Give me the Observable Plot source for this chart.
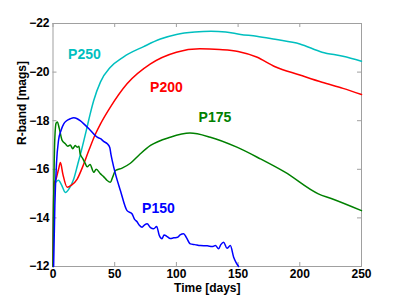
<!DOCTYPE html>
<html><head><meta charset="utf-8">
<script src="https://cdn.jsdelivr.net/npm/d3@7"></script>
<script src="https://cdn.jsdelivr.net/npm/@observablehq/plot@0.6"></script>
<style>body{margin:0;background:#fff}</style>
</head><body><div id="chart"></div>
<script>
// ---- data ----
const p250Days = [0, 0.8, 2, 4.5, 7, 10, 13, 16.8, 20, 23, 27, 30, 33, 38.5, 46.5, 57, 73.5, 87, 100, 115, 128, 140, 152, 165, 180, 200, 218, 235, 250];
const p250Mags = [-12, -15.3, -15.45, -15.55, -15.35, -15.05, -15.2, -15.6, -16.2, -16.77, -17.6, -18.25, -18.83, -19.6, -20.2, -20.62, -21.05, -21.36, -21.55, -21.65, -21.68, -21.65, -21.55, -21.48, -21.35, -21.16, -20.82, -20.65, -20.45];

const p200Days = [0, 0.8, 2.5, 4.5, 6, 8, 11.5, 15, 19.6, 24, 29, 34.4, 38.5, 46.5, 60, 79, 100, 119, 135, 150, 165, 180, 200, 218, 235, 250];
const p200Mags = [-12, -15.4, -15.6, -16.0, -16.28, -15.8, -15.26, -15.35, -15.6, -16.1, -16.77, -17.45, -17.87, -18.56, -19.52, -20.34, -20.82, -20.96, -20.93, -20.85, -20.62, -20.22, -19.88, -19.58, -19.33, -19.08];

const p175Days = [0, 0.6, 1.5, 2.5, 3.5, 5, 7.4, 10, 12, 14, 16, 18, 19.6, 21, 22, 24, 26, 27.7, 30, 33, 35, 38.5, 41, 43.9, 46.5, 48.5, 50.6, 56, 62.7, 70, 79, 95, 111, 127.5, 149, 168, 188, 215, 226, 250];
const p175Mags = [-12, -15, -17.3, -17.9, -17.95, -17.7, -17.19, -17.05, -16.95, -17.0, -16.85, -16.98, -16.91, -16.95, -16.64, -16.45, -16.25, -16.1, -16.2, -15.88, -16.0, -15.81, -15.7, -15.54, -15.47, -15.7, -15.95, -16.05, -16.25, -16.6, -16.98, -17.32, -17.49, -17.32, -16.91, -16.43, -15.88, -14.99, -14.79, -14.3];

const p150Days = [0.5, 1.5, 2.8, 4.5, 6.5, 8.7, 11, 14, 16.8, 19.6, 22, 25, 30.4, 35.8, 38.5, 41, 44, 46, 47, 48, 50.6, 54.6, 60, 64, 66, 68, 70, 72.2, 74, 76.3, 79, 81.6, 84, 86, 88.4, 90, 92.5, 95, 97.8, 101, 103, 105.9, 108, 111.3, 115, 119.4, 125, 129, 131.6, 134.2, 136, 138.3, 141, 143.7, 146.4, 148.5, 150.4];
const p150Mags = [-12, -14.5, -16.23, -17.2, -17.6, -17.87, -18.0, -18.08, -18.12, -18.08, -18.0, -17.87, -17.6, -17.32, -17.26, -17.15, -17.05, -16.9, -16.6, -16.36, -15.81, -15.13, -14.3, -14.17, -13.95, -13.85, -13.7, -13.62, -13.7, -13.76, -13.6, -13.55, -13.65, -13.3, -13.14, -13.3, -13.23, -13.15, -13.18, -13.2, -13.3, -13.35, -13.2, -12.93, -12.9, -12.86, -12.85, -12.82, -12.86, -12.73, -12.9, -13.0, -12.75, -12.86, -12.38, -12.15, -12];

const seriesNames = ["P250", "P200", "P175", "P150"];
const labelDays = [25.5, 91.9, 131.2, 85.4];
const labelMags = [-20.71, -19.38, -18.12, -14.37];

const xTicks = [0, 50, 100, 150, 200, 250];
const yTicks = [-12, -14, -16, -18, -20, -22];

// ---- build table ----
const seriesData = [[p250Days, p250Mags], [p200Days, p200Mags], [p175Days, p175Mags], [p150Days, p150Mags]];
const rows = [];
seriesData.forEach(([ds, ms], i) => ds.forEach((d, j) => rows.push({series: seriesNames[i], day: d, mag: ms[j]})));
const labels = seriesNames.map((s, i) => ({series: s, day: labelDays[i], mag: labelMags[i]}));

const colors = {P250: "#00bfbf", P200: "#ff0000", P175: "#008000", P150: "#0000ff"};

const W = 399, H = 299, mL = 52.5, mR = 38, mT = 23, mB = 33;
const plotW = W - mL - mR, plotH = H - mT - mB;
const frameGray = "#a0a0a0";

const chart = Plot.plot({
  width: W, height: H,
  marginLeft: mL, marginRight: mR, marginTop: mT, marginBottom: mB,
  style: {fontFamily: "'Liberation Sans', Arial, sans-serif", fontSize: "12px", fontWeight: "bold", color: "#000", background: "#fff"},
  x: {domain: [0, 250]},
  y: {domain: [-12, -22]},
  marks: [
    Plot.frame({stroke: frameGray}),
    Plot.ruleX(xTicks, {x: d => d, stroke: frameGray, insetTop: plotH - 4}),
    Plot.ruleX(xTicks, {x: d => d, stroke: frameGray, insetBottom: plotH - 4}),
    Plot.ruleY(yTicks, {y: d => d, stroke: frameGray, insetRight: plotW - 4}),
    Plot.ruleY(yTicks, {y: d => d, stroke: frameGray, insetLeft: plotW - 4}),
    Plot.axisX(xTicks, {anchor: "bottom", tickSize: 0, tickPadding: 3, label: null, fontWeight: "bold", fontSize: 12}),
    Plot.axisY(yTicks, {anchor: "left", tickSize: 0, tickPadding: 3.5, label: null, fontWeight: "bold", fontSize: 12}),
    Plot.line(rows, {x: "day", y: "mag", z: "series", stroke: d => colors[d.series], strokeWidth: 1.5, curve: "monotone-x"}),
    Plot.text(labels, {x: "day", y: "mag", text: "series", fill: d => colors[d.series], fontSize: 14, fontWeight: "bold"}),
    Plot.text(["Time [days]"], {frameAnchor: "bottom", dy: 25.5, fontSize: 12, fontWeight: "bold"}),
    Plot.text(["R-band [mags]"], {frameAnchor: "left", dx: -31, rotate: -90, fontSize: 12, fontWeight: "bold"})
  ]
});
document.getElementById("chart").appendChild(chart);
</script>
</body></html>
